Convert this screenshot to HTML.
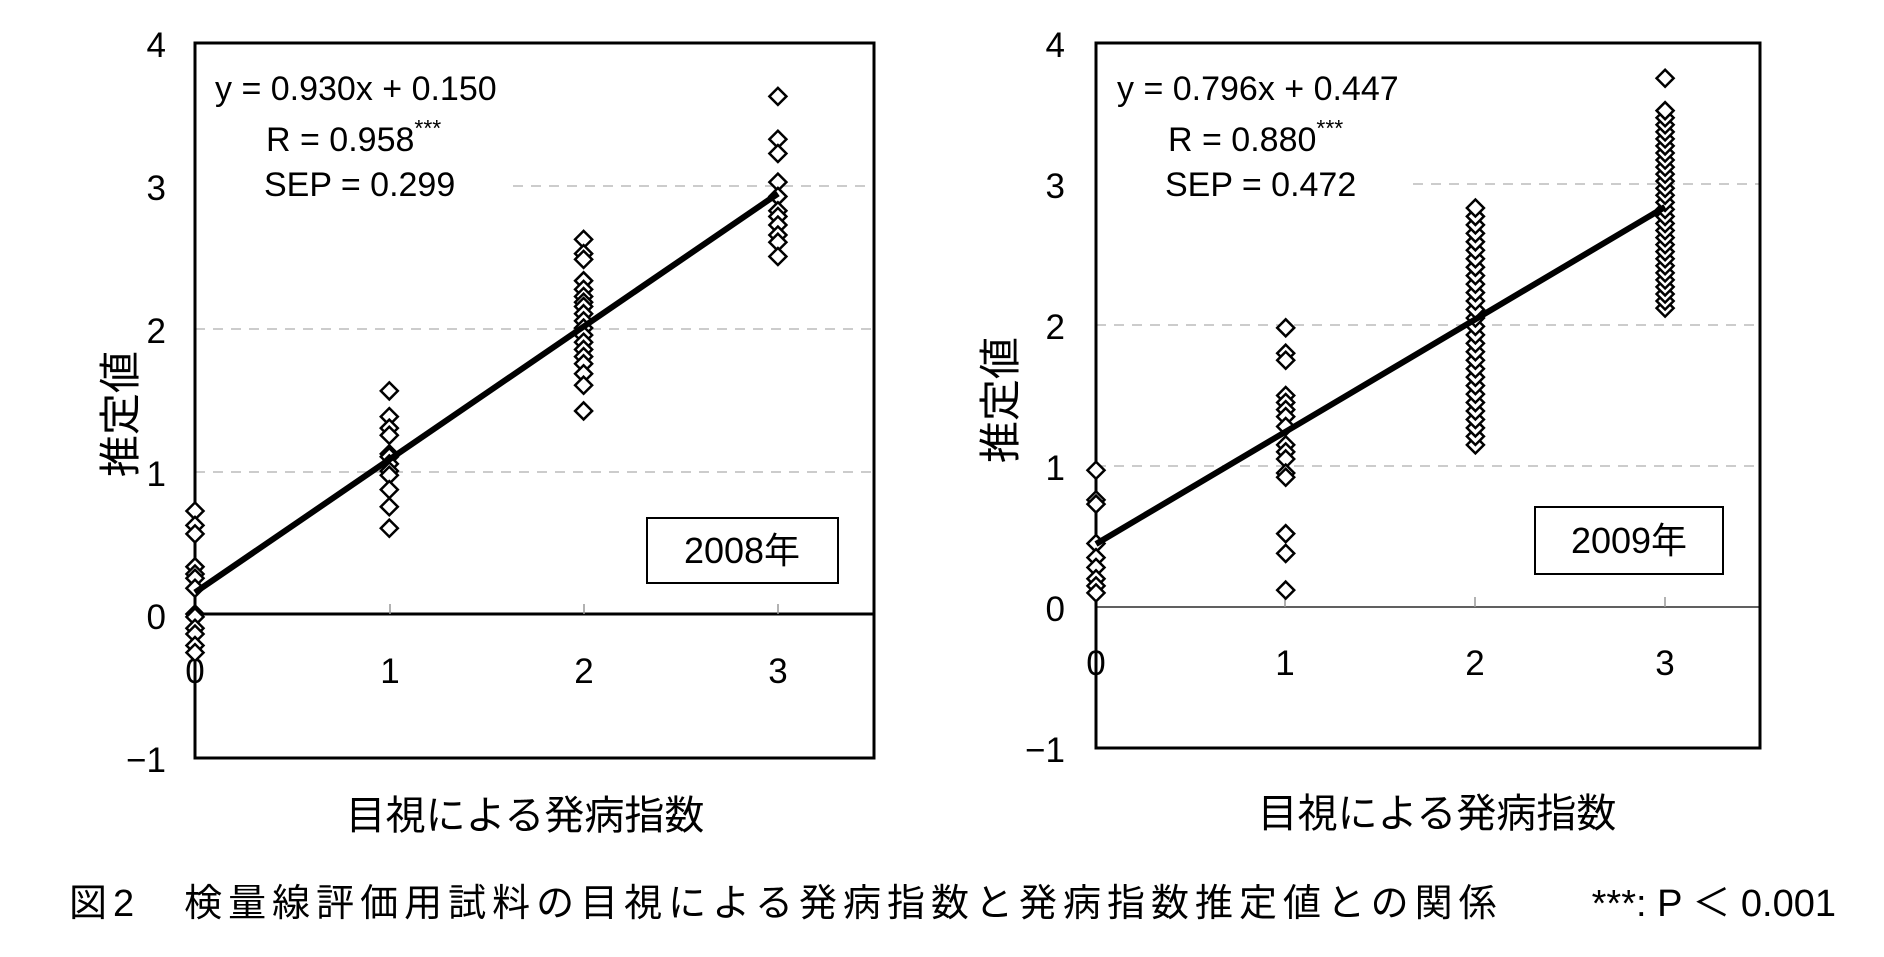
<!DOCTYPE html>
<html><head><meta charset="utf-8"><style>
html,body{margin:0;padding:0;background:#fff;width:1884px;height:957px;overflow:hidden}
svg text{font-family:"Liberation Sans","Noto Sans CJK JP",sans-serif;fill:#000}
</style></head><body>
<svg id="s" width="1884" height="957" xmlns="http://www.w3.org/2000/svg">
<!-- Left chart -->
<g stroke="#bbb" stroke-width="1.5" stroke-dasharray="10,8">
<line x1="513" y1="186" x2="874" y2="186"/>
<line x1="195" y1="329" x2="874" y2="329"/>
<line x1="195" y1="472" x2="874" y2="472"/>
</g>
<rect x="195" y="43" width="679" height="715" fill="none" stroke="#000" stroke-width="3"/>
<line x1="195" y1="614" x2="874" y2="614" stroke="#000" stroke-width="3"/>
<g stroke="#999" stroke-width="1.5"><line x1="390" y1="604" x2="390" y2="614"/><line x1="584" y1="604" x2="584" y2="614"/><line x1="778" y1="604" x2="778" y2="614"/></g>
<g font-size="35" text-anchor="end">
<text x="166" y="57">4</text><text x="166" y="200">3</text><text x="166" y="343">2</text><text x="166" y="486">1</text><text x="166" y="629">0</text><text x="166" y="772">−1</text>
</g>
<g font-size="35" text-anchor="middle">
<text x="195" y="683">0</text><text x="390" y="683">1</text><text x="584" y="683">2</text><text x="778" y="683">3</text>
</g>
<text x="215" y="100" font-size="34">y = 0.930x + 0.150</text>
<text x="266" y="151" font-size="34">R = 0.958<tspan font-size="23" dy="-15">***</tspan></text>
<text x="264" y="196" font-size="34">SEP = 0.299</text>
<rect x="647" y="518" width="191" height="65" fill="#fff" stroke="#000" stroke-width="2"/>
<text x="742" y="563" font-size="36" text-anchor="middle">2008年</text>
<text font-size="42" text-anchor="middle" transform="translate(135,414) rotate(-90)">推定値</text>
<text x="525" y="829" font-size="40" text-anchor="middle">目視による発病指数</text>
<g id="L"></g>
<line x1="195" y1="592.5" x2="778" y2="193.6" stroke="#000" stroke-width="6"/>

<!-- Right chart -->
<g stroke="#bbb" stroke-width="1.5" stroke-dasharray="10,8">
<line x1="1413" y1="184" x2="1760" y2="184"/>
<line x1="1096" y1="325" x2="1760" y2="325"/>
<line x1="1096" y1="466" x2="1760" y2="466"/>
</g>
<rect x="1096" y="43" width="664" height="705" fill="none" stroke="#000" stroke-width="3"/>
<line x1="1096" y1="607" x2="1760" y2="607" stroke="#000" stroke-width="1.2"/>
<g stroke="#999" stroke-width="1.5"><line x1="1285" y1="597" x2="1285" y2="607"/><line x1="1475" y1="597" x2="1475" y2="607"/><line x1="1665" y1="597" x2="1665" y2="607"/></g>
<g font-size="35" text-anchor="end">
<text x="1065" y="57">4</text><text x="1065" y="198">3</text><text x="1065" y="339">2</text><text x="1065" y="480">1</text><text x="1065" y="621">0</text><text x="1065" y="762">−1</text>
</g>
<g font-size="35" text-anchor="middle">
<text x="1096" y="675">0</text><text x="1285" y="675">1</text><text x="1475" y="675">2</text><text x="1665" y="675">3</text>
</g>
<text x="1117" y="100" font-size="34">y = 0.796x + 0.447</text>
<text x="1168" y="151" font-size="34">R = 0.880<tspan font-size="23" dy="-15">***</tspan></text>
<text x="1165" y="196" font-size="34">SEP = 0.472</text>
<rect x="1535" y="507" width="188" height="67" fill="#fff" stroke="#000" stroke-width="2"/>
<text x="1629" y="553" font-size="36" text-anchor="middle">2009年</text>
<text font-size="42" text-anchor="middle" transform="translate(1015,400) rotate(-90)">推定値</text>
<text x="1437" y="827" font-size="40" text-anchor="middle">目視による発病指数</text>
<g id="R"></g>
<line x1="1096" y1="544" x2="1665" y2="207" stroke="#000" stroke-width="6"/>

<text x="69" y="916" font-size="38" letter-spacing="6">図2　検量線評価用試料の目視による発病指数と発病指数推定値との関係</text>
<text x="1836" y="916" font-size="38" text-anchor="end">***:  P ＜ 0.001</text>
</svg>
<script>
function dia(g,cx,cy){var s=8.5;var p=document.createElementNS("http://www.w3.org/2000/svg","polygon");
p.setAttribute("points",(cx)+","+(cy-s)+" "+(cx+s)+","+cy+" "+cx+","+(cy+s)+" "+(cx-s)+","+cy);
p.setAttribute("fill","#fff");p.setAttribute("stroke","#000");p.setAttribute("stroke-width","2.5");g.appendChild(p);}
var L=document.getElementById("L"),R=document.getElementById("R");
var ld=[[0.72,0.62,0.56,0.33,0.28,0.25,0.18,0,-0.02,-0.1,-0.14,-0.22,-0.27],
[1.56,1.38,1.3,1.25,1.12,1.1,1.05,1.0,0.97,0.87,0.75,0.6],
[2.62,2.52,2.48,2.33,2.27,2.22,2.18,2.15,2.1,2.05,2.0,1.95,1.9,1.85,1.8,1.75,1.68,1.6,1.42],
[3.62,3.32,3.22,3.02,2.92,2.82,2.78,2.72,2.65,2.6,2.5]];
ld.forEach(function(a,i){a.forEach(function(v){dia(L,195+i*194.3,614-v*143);});});
var rd=[[0.97,0.76,0.73,0.45,0.35,0.28,0.2,0.15,0.1],
[1.98,1.8,1.75,1.5,1.45,1.4,1.35,1.28,1.15,1.1,1.05,0.95,0.92,0.52,0.38,0.12],[],[]];
for(var v=1.15;v<=2.85;v+=0.06)rd[2].push(v);
for(var v=2.12;v<=3.56;v+=0.05)rd[3].push(v);rd[3].push(3.75);
rd.forEach(function(a,i){a.forEach(function(v){dia(R,1096+i*189.7,607-v*141);});});
</script>
</body></html>
